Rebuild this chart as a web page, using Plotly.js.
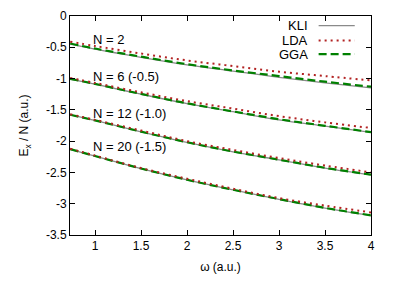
<!DOCTYPE html>
<html>
<head>
<meta charset="utf-8">
<script src="https://cdn.plot.ly/plotly-3.0.1.min.js"></script>
<style>html,body{margin:0;padding:0;background:#fff;}#chart{width:395px;height:298px;}</style>
</head>
<body>
<div id="chart"></div>
<script>
const omega = [0.73, 1, 1.5, 2, 2.5, 3, 3.5, 4];
const kliN2  = [-0.45, -0.53, -0.66, -0.78, -0.88, -0.98, -1.07, -1.15];
const ldaN2  = [-0.41, -0.48, -0.60, -0.71, -0.80, -0.89, -0.96, -1.03];
const ggaN2  = [-0.44, -0.52, -0.65, -0.77, -0.87, -0.96, -1.05, -1.13];
const kliN6  = [-1.01, -1.09, -1.25, -1.40, -1.53, -1.66, -1.76, -1.86];
const ldaN6  = [-0.99, -1.07, -1.22, -1.36, -1.48, -1.60, -1.70, -1.79];
const ggaN6  = [-1.005, -1.085, -1.245, -1.395, -1.525, -1.65, -1.755, -1.855];
const kliN12 = [-1.58, -1.67, -1.85, -2.02, -2.17, -2.30, -2.43, -2.54];
const ldaN12 = [-1.57, -1.66, -1.83, -2.00, -2.14, -2.27, -2.39, -2.50];
const ggaN12 = [-1.578, -1.668, -1.848, -2.017, -2.166, -2.296, -2.426, -2.536];
const kliN20 = [-2.13, -2.24, -2.44, -2.62, -2.78, -2.93, -3.07, -3.19];
const ldaN20 = [-2.12, -2.23, -2.43, -2.60, -2.76, -2.91, -3.03, -3.14];
const ggaN20 = [-2.128, -2.238, -2.437, -2.617, -2.777, -2.926, -3.066, -3.186];
const groupLabels = ['N = 2', 'N = 6 (-0.5)', 'N = 12 (-1.0)', 'N = 20 (-1.5)'];
const labelY = [-0.37, -0.97, -1.56, -2.09];
const legendNames = ['KLI', 'LDA', 'GGA'];

const kliStyle = {color: '#8a8a8a', width: 1.3};
const ldaStyle = {color: '#b22222', width: 2, dash: '2px,4px'};
const ggaStyle = {color: '#008000', width: 2.2, dash: '8px,4px'};

const kli = [kliN2, kliN6, kliN12, kliN20];
const lda = [ldaN2, ldaN6, ldaN12, ldaN20];
const gga = [ggaN2, ggaN6, ggaN12, ggaN20];

const traces = [];
for (let i = 0; i < 4; i++) {
  traces.push({x: omega, y: kli[i], mode: 'lines', line: Object.assign({shape: 'spline'}, kliStyle), showlegend: false, hoverinfo: 'skip'});
  traces.push({x: omega, y: gga[i], mode: 'lines', line: Object.assign({shape: 'spline'}, ggaStyle), showlegend: false, hoverinfo: 'skip'});
  traces.push({x: omega, y: lda[i], mode: 'lines', line: Object.assign({shape: 'spline'}, ldaStyle), showlegend: false, hoverinfo: 'skip'});
}

const font = {family: 'Liberation Sans, Arial, sans-serif', size: 12, color: '#000'};
const annotations = groupLabels.map((t, i) => ({
  x: 0.955, y: labelY[i], xref: 'x', yref: 'y', text: t, showarrow: false,
  xanchor: 'left', yanchor: 'middle', font: {family: font.family, size: 13, color: '#000'}
}));
const legY = [0.956, 0.888, 0.826];
const styles = [kliStyle, ldaStyle, ggaStyle];
const shapes = [];
legendNames.forEach((n, i) => {
  annotations.push({x: 0.799, y: legY[i], xref: 'paper', yref: 'paper', text: n, showarrow: false,
    xanchor: 'right', yanchor: 'middle', font: {family: font.family, size: 13, color: '#000'}});
  shapes.push({type: 'line', xref: 'paper', yref: 'paper', x0: 0.826, x1: 0.946, y0: legY[i], y1: legY[i],
    line: styles[i]});
});

const layout = {
  width: 395, height: 298,
  margin: {l: 70, r: 24, t: 16, b: 63},
  paper_bgcolor: '#fff', plot_bgcolor: '#fff',
  font: font,
  showlegend: false,
  xaxis: {
    range: [0.728, 4], tickvals: [1, 1.5, 2, 2.5, 3, 3.5, 4], ticktext: ['1', '1.5', '2', '2.5', '3', '3.5', '4'],
    ticks: 'inside', ticklen: 5, tickcolor: '#000', showline: true, linecolor: '#000', linewidth: 1,
    mirror: 'ticks', showgrid: false, zeroline: false,
    title: {text: 'ω (a.u.)', font: {family: font.family, size: 12}, standoff: 10}
  },
  yaxis: {
    range: [-3.5, 0], tickvals: [0, -0.5, -1, -1.5, -2, -2.5, -3, -3.5], ticktext: ['0', '-0.5', '-1', '-1.5', '-2', '-2.5', '-3', '-3.5'],
    ticks: 'inside', ticklen: 5, tickcolor: '#000', showline: true, linecolor: '#000', linewidth: 1,
    mirror: 'ticks', showgrid: false, zeroline: false,
    title: {text: 'E<sub>x</sub> / N (a.u.)', font: {family: font.family, size: 12}, standoff: 14}
  },
  annotations: annotations,
  shapes: shapes
};

Plotly.newPlot('chart', traces, layout, {displayModeBar: false, staticPlot: true});
</script>
</body>
</html>
